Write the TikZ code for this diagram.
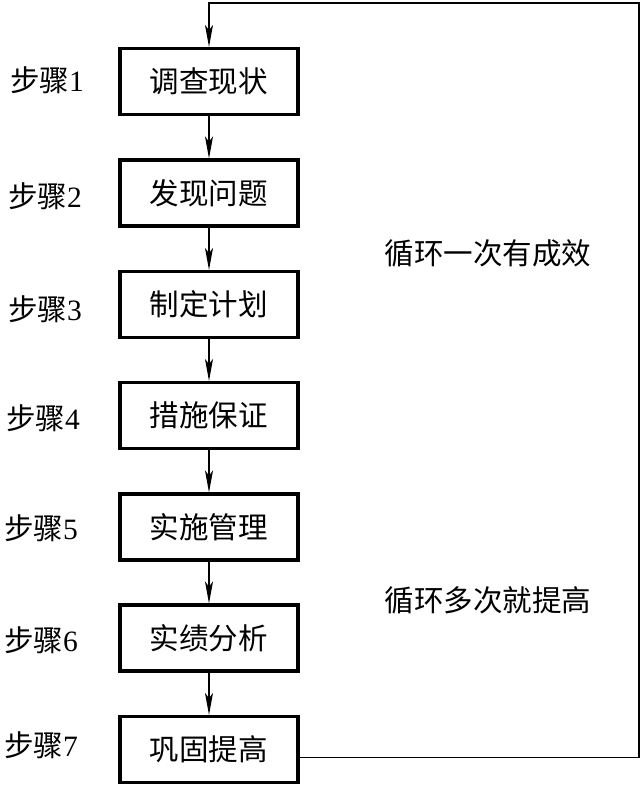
\documentclass[tikz,border=0pt]{standalone}
\usepackage{fontspec}
\setmainfont{Liberation Serif}
\newfontfamily\cjk{Noto Sans CJK SC}
\usetikzlibrary{arrows.meta}

\tikzset{
  stepbox/.style={draw,line width=2.2pt,minimum width=4.45cm,minimum height=1.65cm,
    inner sep=0pt,font=\cjk\fontsize{21}{21}\selectfont},
  steplabel/.style={font=\fontsize{21}{21}\selectfont},
  flow/.style={line width=0.9pt,-{Stealth[length=5.5mm,width=2mm,inset=1.3mm]}},
}

\begin{document}
\begin{tikzpicture}[x=0.025cm,y=-0.025cm]
  \useasboundingbox (0,0) rectangle (642,785);
  % the seven steps
  \node[stepbox] (s1) at (209,81.5) {调查现状};
  \node[stepbox] (s2) at (209,193) {发现问题};
  \node[stepbox] (s3) at (209,304.5) {制定计划};
  \node[stepbox] (s4) at (209,415.5) {措施保证};
  \node[stepbox] (s5) at (209,527) {实施管理};
  \node[stepbox] (s6) at (209,638) {实绩分析};
  \node[stepbox] (s7) at (209,749.5) {巩固提高};
  \node[steplabel] (l1) at (47,80) {{\cjk 步骤}1};
  \node[steplabel] (l2) at (45,196) {{\cjk 步骤}2};
  \node[steplabel] (l3) at (45,309) {{\cjk 步骤}3};
  \node[steplabel] (l4) at (43,418) {{\cjk 步骤}4};
  \node[steplabel] (l5) at (41,528) {{\cjk 步骤}5};
  \node[steplabel] (l6) at (41,640) {{\cjk 步骤}6};
  \node[steplabel] (l7) at (41,745) {{\cjk 步骤}7};
  % notes on the right
  \node[steplabel,font=\cjk\fontsize{21}{21}\selectfont] (n1) at (488,253) {循环一次有成效};
  \node[steplabel,font=\cjk\fontsize{21}{21}\selectfont] (n2) at (488,600) {循环多次就提高};
  \draw[flow] (s1) -- (s2);
  \draw[flow] (s2) -- (s3);
  \draw[flow] (s3) -- (s4);
  \draw[flow] (s4) -- (s5);
  \draw[flow] (s5) -- (s6);
  \draw[flow] (s6) -- (s7);
  % feedback loop
  \coordinate (back) at (639,3);
  \draw[flow] ([yshift=-0.2cm]s7.east) -| (back) -| (s1.north);
\end{tikzpicture}
\end{document}
